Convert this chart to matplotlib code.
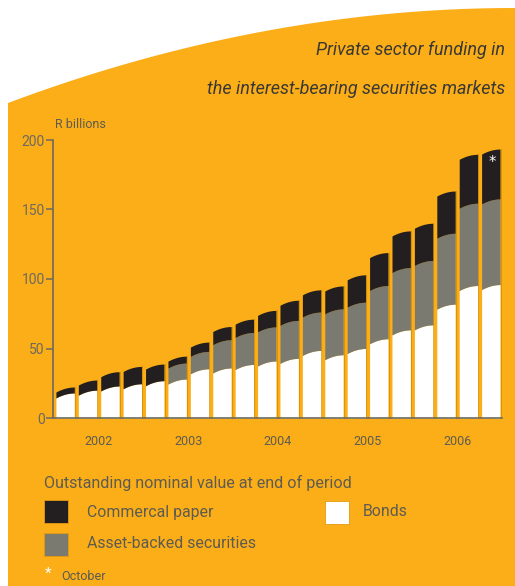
import numpy as np
import matplotlib
matplotlib.use("Agg")
import matplotlib.pyplot as plt
from matplotlib.patches import Polygon, Rectangle

# ---- data (R billions, end of quarter, 2002Q1 .. Oct 2006) ----
bonds = [18.0, 20.0, 23.0, 24.6, 26.8, 28.0, 35.4, 36.0, 38.5, 41.0,
         42.9, 48.6, 45.5, 50.0, 57.0, 63.4, 67.0, 81.9, 95.3, 96.0]
asset_backed = [0.0, 0.0, 0.0, 0.0, 0.0, 11.5, 12.5, 20.3, 23.0, 24.5,
                27.3, 27.6, 33.0, 33.3, 38.3, 44.8, 46.3, 51.0, 59.2, 61.6]
commercial_paper = [4.3, 7.3, 10.3, 12.5, 12.0, 5.0, 6.7, 9.5, 9.6, 11.9,
                    14.5, 16.0, 16.5, 19.7, 23.7, 26.4, 26.8, 30.4, 35.2, 35.9]
years = ["2002", "2003", "2004", "2005", "2006"]
yticks = [0, 50, 100, 150, 200]

ORANGE = "#FBAE17"
BLACK = "#231F20"
GREY = "#7A7A70"
TEXT = "#5E5B52"
AXC = "#6D6A5F"

W, H = 515, 586
fig = plt.figure(figsize=(W / 100, H / 100), dpi=100)
fig.patch.set_facecolor("white")

# orange panel with curved top edge
xs = np.linspace(8, W, 200)
ys = 8 + 95 * ((W - xs) / (W - 8)) ** 2
verts = [(x / W, 1 - y / H) for x, y in zip(xs, ys)] + [(1, 0), (8 / W, 0)]
fig.patches.append(Polygon(verts, closed=True, transform=fig.transFigure,
                           facecolor=ORANGE, edgecolor="none", zorder=-5))

fam = ["Roboto", "DejaVu Sans"]
fig.text(505 / W, 1 - 50 / H, "Private sector funding in", ha="right", va="center",
         fontsize=13, style="italic", color="#3A3835", family=fam)
fig.text(505 / W, 1 - 89 / H, "the interest-bearing securities markets", ha="right",
         va="center", fontsize=13, style="italic", color="#3A3835", family=fam)

ax = fig.add_axes([53 / W, 1 - 418 / H, (502 - 53) / W, (418 - 140) / H])
ax.set_facecolor("none")
ax.set_zorder(2)
n = len(bonds)
idx = np.arange(n)
bw = 0.82
drop = 3.6
t = np.linspace(0, 1, 40)
curve = -drop * (1 - t) ** 2
c1 = np.array(bonds)
c2 = c1 + np.array(asset_backed)
c3 = c2 + np.array(commercial_paper)
for i in idx:
    x = i - bw / 2 + t * bw
    ax.fill_between(x, 0, c1[i] + curve, color="white", lw=0, zorder=2)
    if asset_backed[i] > 0:
        ax.fill_between(x, c1[i] + curve, c2[i] + curve, color=GREY, lw=0, zorder=2)
    ax.fill_between(x, c2[i] + curve, c3[i] + curve, color=BLACK, lw=0, zorder=2)
    ax.plot([i + bw / 2 + 0.03] * 2, [0, c3[i]], color="#D9940E", lw=0.8, zorder=1)

ax.text(idx[-1] + 0.05, c3[-1] - 10, "*", color="white", ha="center", va="center",
        fontsize=10.5, zorder=3)

ax.set_xlim(-0.54, 19.5)
ax.set_ylim(0, 200)
ax.set_yticks(yticks)
ax.set_yticklabels([str(v) for v in yticks], family=fam, fontsize=10, color=AXC)
ax.set_xticks([1.5, 5.5, 9.5, 13.5, 17.5])
ax.set_xticklabels(years, family=fam, fontsize=9, color=TEXT)
ax.tick_params(axis="x", length=0, pad=12)
ax.tick_params(axis="y", length=5, width=1.1, color=AXC, pad=1)
for s in ["top", "right"]:
    ax.spines[s].set_visible(False)
for s in ["left", "bottom"]:
    ax.spines[s].set_color(AXC)
    ax.spines[s].set_linewidth(1.2)

fig.text(55 / W, 1 - 125 / H, "R billions", ha="left", va="center", fontsize=9,
         color=TEXT, family=fam)

# legend
fig.text(44 / W, 1 - 483 / H, "Outstanding nominal value at end of period", ha="left",
         va="center", fontsize=11.6, color=TEXT, family=fam)
def swatch(x, y, col):
    fig.patches.append(Rectangle((x / W, 1 - (y + 23) / H), 24 / W, 23 / H,
                                 transform=fig.transFigure, facecolor=col,
                                 edgecolor="#E39A0F", lw=0.6, zorder=2))
swatch(44, 500, BLACK)
swatch(325, 501, "white")
swatch(44, 533, GREY)
fig.text(87 / W, 1 - 512 / H, "Commercal paper", ha="left", va="center", fontsize=11.4,
         color=TEXT, family=fam)
fig.text(363 / W, 1 - 512 / H, "Bonds", ha="left", va="center", fontsize=11.4,
         color=TEXT, family=fam)
fig.text(87 / W, 1 - 543 / H, "Asset-backed securities", ha="left", va="center",
         fontsize=11.4, color=TEXT, family=fam)
fig.text(45 / W, 1 - 574 / H, "*", ha="left", va="center", fontsize=11, color="white",
         family=fam)
fig.text(61 / W, 1 - 576 / H, "October", ha="left", va="center", fontsize=9,
         color=TEXT, family=fam)

fig.savefig("out.png", dpi=100)
